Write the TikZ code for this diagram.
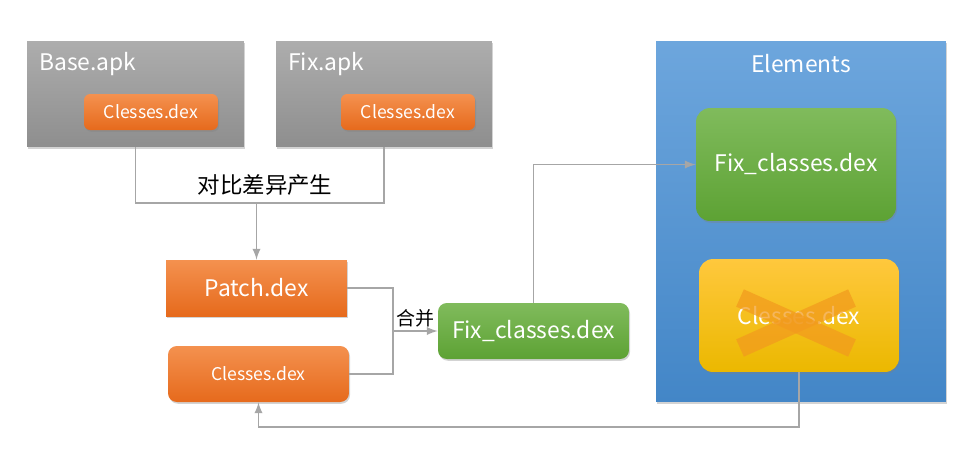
\documentclass[tikz,border=0pt]{standalone}
\usepackage{fontspec}
\setmainfont{Noto Sans CJK SC}
\usepackage{tikz}
\usetikzlibrary{calc}
\usetikzlibrary{shapes}
\usetikzlibrary{arrows}
\usetikzlibrary{shadows}
\usetikzlibrary{backgrounds}

\definecolor{lineg}{HTML}{A6A6A6}
\definecolor{grayT}{HTML}{ADADAD}
\definecolor{grayB}{HTML}{8E8E8E}
\definecolor{orT}{HTML}{F4914F}
\definecolor{orB}{HTML}{E66A1C}
\definecolor{grT}{HTML}{80BB5C}
\definecolor{grB}{HTML}{5DA234}
\definecolor{blT}{HTML}{6DA6DD}
\definecolor{blB}{HTML}{4386C7}
\definecolor{yeT}{HTML}{FFC83D}
\definecolor{yeB}{HTML}{EBB800}
\definecolor{crossc}{HTML}{F29A1E}

\begin{document}
\begin{tikzpicture}[x=0.02cm,y=-0.02cm,
    shade/.style={drop shadow={shadow xshift=0.6pt,shadow yshift=-1pt,opacity=0.35}},
    apkbox/.style={shade,top color=grayT,bottom color=grayB,inner sep=0pt},
    dexsmall/.style={shade,top color=orT,bottom color=orB,rounded corners=3.5pt,text=white,font=\fontsize{10}{12}\selectfont,inner sep=0pt},
    dexbig/.style={shade,top color=orT,bottom color=orB,text=white,font=\fontsize{13}{15}\selectfont,inner sep=0pt},
    greenbox/.style={shade,top color=grT,bottom color=grB,text=white,font=\fontsize{13}{15}\selectfont,inner sep=0pt},
    title/.style={text=white,font=\fontsize{13}{15}\selectfont,inner sep=0pt},
    crossbar/.style={draw=crossc,opacity=0.72,line width=10.8pt},
    conn/.style={draw=lineg,line width=1.1pt},
    arr/.style={conn,-latex}]
        \useasboundingbox (0,0) rectangle (980,457);
        % apk boxes
        \node[apkbox,minimum width=4.34cm,minimum height=2.12cm] (base) at (135.5,94) {};
        \node[apkbox,minimum width=4.32cm,minimum height=2.12cm] (fix) at (384,94) {};
        \node[title,anchor=west] (basename) at (39,64) {Base.apk};
        \node[title,anchor=west] (fixname) at (288,64) {Fix.apk};
        \node[dexsmall,minimum width=2.68cm,minimum height=0.72cm] (basedex) at (151,112) {Clesses.dex};
        \node[dexsmall,minimum width=2.68cm,minimum height=0.72cm] (fixdex) at (408,112) {Clesses.dex};
        % elements
        \node[shade,top color=blT,bottom color=blB,minimum width=5.8cm,minimum height=7.22cm,inner sep=0pt] (elem) at (801,221.5) {};
        \node[title] (elemname) at (801,64) {Elements};
        \node[greenbox,rounded corners=8pt,minimum width=4cm,minimum height=2.26cm] (newfix) at (796,164.5) {Fix\_classes.dex};
        \node[shade,top color=yeT,bottom color=yeB,rounded corners=8pt,minimum width=4cm,minimum height=2.26cm,inner sep=0pt,
              text=white,font=\fontsize{13}{15}\selectfont] (olddex) at (799,315.5) {Clesses.dex};
        \draw[crossbar] (740,298) -- (852,348);
        \draw[crossbar] (740,348) -- (852,298);
        % patch side
        \node[dexbig,minimum width=3.62cm,minimum height=1.12cm] (patch) at (256.5,288) {Patch.dex};
        \node[dexsmall,rounded corners=5pt,minimum width=3.62cm,minimum height=1.12cm] (oldex) at (258.5,374) {Clesses.dex};
        \node[greenbox,rounded corners=5pt,minimum width=3.82cm,minimum height=1.12cm] (fixcls) at (533.5,331) {Fix\_classes.dex};
        % connectors
        \coordinate (join) at (256.5,203);
        \coordinate (merge) at (393,331);
        \draw[conn] (base.south) |- (join) -| (fix.south);
        \draw[arr] (join) -- (patch.north);
        \node[font=\fontsize{12.8}{14}\selectfont,inner sep=0pt] (difflabel) at (265,185) {对比差异产生};
        \draw[conn] (patch.east) -| (merge);
        \draw[conn] (oldex.east) -| (merge);
        \draw[arr] (merge) -- (fixcls.west);
        \node[font=\fontsize{10.8}{12}\selectfont,inner sep=0pt] (mergelabel) at (415,318) {合并};
        \draw[arr] (fixcls.north) |- (newfix.west);
        \draw[arr] (olddex.south) -- ++(0,55) -| (oldex.south);
    \end{tikzpicture}
\end{document}
